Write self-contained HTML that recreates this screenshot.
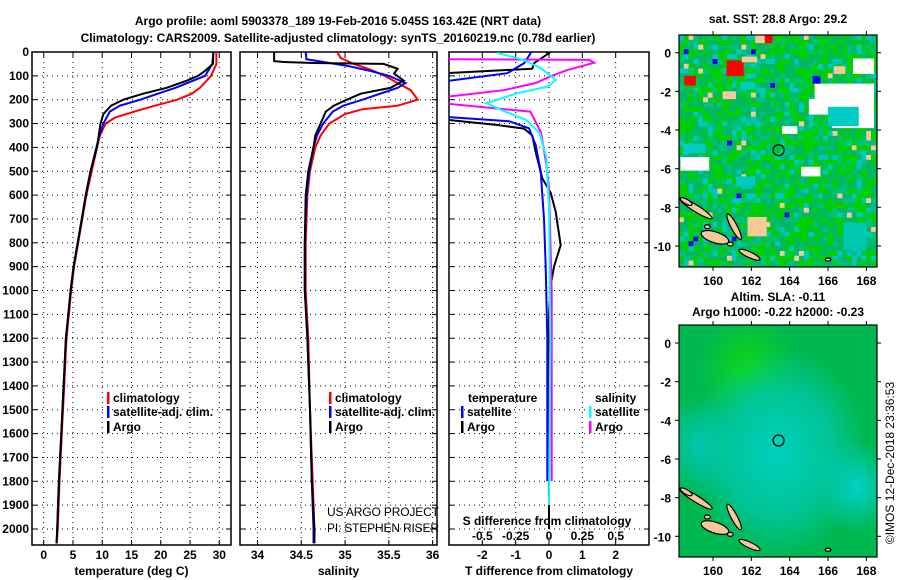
<!DOCTYPE html>
<html><head><meta charset="utf-8"><style>
html,body{margin:0;padding:0;background:#fff;}
svg{display:block;font-family:"Liberation Sans",sans-serif;}
.b{font-weight:bold;font-size:12px;}
</style></head><body>
<svg id="fig" width="900" height="580" viewBox="0 0 900 580" xmlns="http://www.w3.org/2000/svg">
<defs>
<clipPath id="c1"><rect x="32" y="52" width="199" height="493"/></clipPath>
<clipPath id="c2"><rect x="240" y="52" width="197" height="493"/></clipPath>
<clipPath id="c3"><rect x="449" y="52" width="200" height="493"/></clipPath>
<clipPath id="cm1"><rect x="679" y="35" width="198" height="232"/></clipPath>
<clipPath id="cm2"><rect x="679" y="325" width="198" height="232"/></clipPath>
<radialGradient id="g1" cx="0.35" cy="0.2" r="0.25"><stop offset="0" stop-color="#10d810"/><stop offset="1" stop-color="#10d810" stop-opacity="0"/></radialGradient>
<radialGradient id="g2" cx="0.5" cy="0.55" r="0.45"><stop offset="0" stop-color="#00d0c0"/><stop offset="0.6" stop-color="#00c8a8" stop-opacity="0.8"/><stop offset="1" stop-color="#00c8a8" stop-opacity="0"/></radialGradient>
<radialGradient id="g3" cx="0.9" cy="0.7" r="0.2"><stop offset="0" stop-color="#00d0c8"/><stop offset="1" stop-color="#00d0c8" stop-opacity="0"/></radialGradient>
<radialGradient id="g4" cx="0.1" cy="0.52" r="0.22"><stop offset="0" stop-color="#00c8b0"/><stop offset="1" stop-color="#00c8b0" stop-opacity="0"/></radialGradient>
</defs>
<text class="b" x="338" y="25" text-anchor="middle" font-size="13">Argo profile: aoml 5903378_189 19-Feb-2016 5.045S 163.42E (NRT data)</text>
<text class="b" x="338" y="42" text-anchor="middle" font-size="13">Climatology: CARS2009. Satellite-adjusted climatology: synTS_20160219.nc (0.78d earlier)</text>
<g id="panels"></g>
<g id="maps"></g>
</svg>
<script>
// ---------- data ----------
const tArgoD=[0,50,80,100,120,150,175,200,225,260,300,400,500,600,700,800,900,1000,1100,1200,1400,1600,1800,2000,2060];
const tArgoV=[29.0,28.9,27.5,26.4,24.5,21,17,13.6,11.5,10.2,9.7,9.1,8.0,7.2,6.5,5.8,5.1,4.6,4.2,3.8,3.4,3.0,2.6,2.3,2.2];
const tSatD=[0,50,100,150,175,200,225,250,300,350,400,500,600,700,800,900,1000,1100,1200,1400,1600,1800,2000,2060];
const tSatV=[29.0,28.8,27.6,22.5,19.5,16.5,13,11.3,10.2,9.5,9.0,8.0,7.2,6.5,5.8,5.1,4.6,4.2,3.8,3.4,3.0,2.6,2.3,2.2];
const tClimD=[0,50,100,150,175,200,225,250,275,300,350,400,500,600,700,800,900,1000,1100,1200,1400,1600,1800,2000,2060];
const tClimV=[29.5,29.5,28.6,26.7,25.3,22.8,19,15.5,12.2,10.6,9.6,9.1,8.2,7.3,6.6,5.9,5.2,4.7,4.3,3.9,3.5,3.1,2.7,2.4,2.2];
const sArgoD=[0,38,42,46,50,70,90,120,150,175,200,225,250,300,350,400,500,600,800,1000,1200,1500,1800,2000,2060];
const sArgoV=[34.19,34.19,34.3,34.64,35.44,35.6,35.56,35.67,35.52,35.18,35.02,34.87,34.78,34.72,34.66,34.64,34.58,34.55,34.54,34.54,34.57,34.6,34.62,34.65,34.65];
const sSatD=[0,30,40,60,80,100,130,150,175,200,225,250,300,350,400,500,600,800,1000,1200,1500,1800,2000,2060];
const sSatV=[34.55,34.56,34.72,35.05,35.3,35.5,35.69,35.6,35.4,35.2,34.98,34.86,34.75,34.68,34.64,34.59,34.56,34.54,34.54,34.57,34.6,34.62,34.64,34.64];
const sClimD=[0,25,50,75,100,130,160,200,225,240,260,300,350,400,500,600,800,1000,1200,1500,1800,2000,2060];
const sClimV=[34.91,34.95,35.1,35.3,35.45,35.6,35.75,35.83,35.6,35.2,35.0,34.82,34.72,34.66,34.6,34.57,34.55,34.55,34.58,34.6,34.63,34.65,34.65];
const dTArgoD=[0,5,47,70,90,250,285,306,321,350,420,530,590,670,810,900,980,1100,2000];
const dTArgoV=[-0.1,0,-0.45,-0.5,-3.3,-3.3,-3,-1.55,-0.75,-0.5,-0.4,-0.2,0.05,0.2,0.35,0.15,0.05,0,0];
const dTSatD=[0,5,47,89,124,270,273,290,320,390,500,700,900,1200,1800];
const dTSatV=[-0.55,-0.55,-0.75,-1.25,-3.2,-3.2,-3,-1.2,-0.6,-0.4,-0.25,-0.15,-0.1,-0.05,-0.05];
const dSArgoD=[0,30,33,45,75,100,130,160,190,215,250,337,470,570,1000,1800];
const dSArgoV=[-0.8,-0.8,0.3,0.34,0.14,0.02,-0.1,-0.34,-0.8,-0.8,-0.14,-0.06,-0.02,0,0.02,0.02];
const dSSatD=[0,5,33,68,117,145,173,215,245,285,340,440,650,1200,1900];
const dSSatV=[-0.38,-0.38,-0.19,-0.06,0.05,-0.01,-0.24,-0.47,-0.35,-0.17,-0.07,-0.02,0,0.01,0];
const depthTicks=[0,100,200,300,400,500,600,700,800,900,1000,1100,1200,1300,1400,1500,1600,1700,1800,1900,2000];
const tTicks=[0,5,10,15,20,25,30];
const sTicks=[34,34.5,35,35.5,36];
const sTickLabels=["34","34.5","35","35.5","36"];
const dtTicks=[-2,-1,0,1,2];
const dsTicks=[-0.5,-0.25,0,0.25,0.5];
const dsTickLabels=["-0.5","-0.25","0","0.25","0.5"];
const lonTicks=[160,162,164,166,168];
const latTicks=[0,-2,-4,-6,-8,-10];
const floatLon=163.42, floatLat=-5.045;

// ---------- helpers ----------
const NS="http://www.w3.org/2000/svg";
function mk(tag,attrs,parent){const e=document.createElementNS(NS,tag);for(const k in attrs)e.setAttribute(k,attrs[k]);parent.appendChild(e);return e;}
const yD=d=>52+d*0.2385;
const P=[{x0:32,x1:231,v0:-2,v1:32,clip:"c1"},{x0:240,x1:437,v0:33.8,v1:36.05,clip:"c2"},{x0:449,x1:649,v0:-3,v1:3,clip:"c3"}];
const xv=(p,v)=>p.x0+(v-p.v0)/(p.v1-p.v0)*(p.x1-p.x0);
const xs=v=>xv(P[2],v*4);
const root=document.getElementById('panels');

function panelFrame(p,i,ticks,labels,title,nm){
  const g=mk('g',{},root);
  
  
  depthTicks.forEach(d=>{
    if(d>0){const l=mk('line',{x1:p.x0,x2:p.x1,y1:yD(d),y2:yD(d),stroke:'#000','stroke-width':1,'stroke-dasharray':'1,4'},g);
    
    }
    mk('line',{x1:p.x0,x2:p.x0+5,y1:yD(d),y2:yD(d),stroke:'#000'},g);
    mk('line',{x1:p.x1-5,x2:p.x1,y1:yD(d),y2:yD(d),stroke:'#000'},g);
    if(i===0){const t=mk('text',{x:29,y:yD(d)+4,'text-anchor':'end','class':'b'},g);t.textContent=d;
      
      }
  });
  ticks.forEach((v,k)=>{
    const x=xv(p,v);
    const l=mk('line',{x1:x,x2:x,y1:52,y2:545,stroke:'#000','stroke-dasharray':'1,4'},g);
    
    
    mk('line',{x1:x,x2:x,y1:540,y2:545,stroke:'#000'},g);
    mk('line',{x1:x,x2:x,y1:52,y2:57,stroke:'#000'},g);
    const t=mk('text',{x:x,y:559,'text-anchor':'middle','class':'b'},g);t.textContent=labels[k];
    
    
  });
  const r=mk('rect',{x:p.x0,y:52,width:p.x1-p.x0,height:493,fill:'none',stroke:'#000','stroke-width':1.5},g);
  
  
  const tt=mk('text',{x:(p.x0+p.x1)/2,y:575,'text-anchor':'middle','class':'b'},g);tt.textContent=title;
  
  
  return g;
}
function series(p,D,V,color,nm,fx){
  const pts=D.map((d,k)=>(fx?fx(V[k]):xv(p,V[k])).toFixed(1)+','+yD(d).toFixed(1)).join(' ');
  const pl=mk('polyline',{points:pts,fill:'none',stroke:color,'stroke-width':2,'clip-path':'url(#'+p.clip+')'},root);
  
  
}
function legend(x,y,color,label,nm){
  const g=mk('g',{},root);
  
  
  mk('rect',{x:x,y:y-10,width:2.5,height:12,fill:color},g);
  const t=mk('text',{x:x+6,y:y,'class':'b'},g);t.textContent=label;
}
function txt(x,y,s,nm,extra){const t=mk('text',Object.assign({x:x,y:y,'class':'b'},extra||{}),root);t.textContent=s;
  
  return t;}

panelFrame(P[0],0,tTicks,tTicks.map(String),'temperature (deg C)','temperature-panel');
panelFrame(P[1],1,sTicks,sTickLabels,'salinity','salinity-panel');
panelFrame(P[2],2,dtTicks,dtTicks.map(String),'T difference from climatology','difference-panel');

series(P[0],tClimD,tClimV,'#ff0000','temp-climatology-line');
series(P[0],tSatD,tSatV,'#0000ff','temp-satellite-line');
series(P[0],tArgoD,tArgoV,'#000000','temp-argo-line');
series(P[1],sClimD,sClimV,'#ff0000','sal-climatology-line');
series(P[1],sSatD,sSatV,'#0000ff','sal-satellite-line');
series(P[1],sArgoD,sArgoV,'#000000','sal-argo-line');
series(P[2],dTArgoD,dTArgoV,'#000000','tdiff-argo-line');
series(P[2],dTSatD,dTSatV,'#0000ff','tdiff-satellite-line');
series(P[2],dSArgoD,dSArgoV,'#ff00ff','sdiff-argo-line',xs);
series(P[2],dSSatD,dSSatV,'#00ffff','sdiff-satellite-line',xs);

legend(107,402,'#ff0000','climatology','legend-temp-climatology');
legend(107,416,'#0000ff','satellite-adj. clim.','legend-temp-satellite');
legend(107,431,'#000000','Argo','legend-temp-argo');
legend(329,402,'#ff0000','climatology','legend-sal-climatology');
legend(329,416,'#0000ff','satellite-adj. clim.','legend-sal-satellite');
legend(329,431,'#000000','Argo','legend-sal-argo');
txt(468,402,'temperature','legend-temperature-heading');
legend(461,416,'#0000ff','satellite','legend-tdiff-satellite');
legend(461,431,'#000000','Argo','legend-tdiff-argo');
txt(595,402,'salinity','legend-salinity-heading');
legend(589,416,'#00ffff','satellite','legend-sdiff-satellite');
legend(589,431,'#ff00ff','Argo','legend-sdiff-argo');
txt(547,525,'S difference from climatology','s-diff-axis-title',{'text-anchor':'middle'});
dsTicks.forEach((v,k)=>{txt(xs(v),540,dsTickLabels[k],'s-diff-tick-label',{'text-anchor':'middle'});});
txt(327,516,'US ARGO PROJECT','credit-project',{'font-weight':'normal','font-size':'12','textLength':'112'}).setAttribute('class','');
txt(327,532,'PI: STEPHEN RISER','credit-pi',{'font-weight':'normal','font-size':'12','textLength':'112'}).setAttribute('class','');
document.querySelectorAll('text:not([class])').forEach(t=>{t.setAttribute('font-size','12');t.setAttribute('fill','#222');});

// ---------- maps ----------
const M=document.getElementById('maps');
const MX0=679.3,LON0=158.24,PXD=19.17,PYD=19.33;
const mx=l=>MX0+(l-LON0)*PXD;
function mapFrame(top,lat0y,title1,title2,nm,clip,fillFn){
  const g=mk('g',{},M);
  
  
  const my=la=>lat0y-la*PYD;
  const inner=mk('g',{'clip-path':'url(#'+clip+')'},g);
  fillFn(inner,my);
  const isl=[[159.1,-8.05,1.0,0.17,32],[160.1,-9.55,0.75,0.28,18],[161.1,-9.0,0.75,0.16,62],[161.9,-10.45,0.6,0.15,25],[158.6,-7.7,0.35,0.12,30],[160.9,-9.9,0.15,0.1,0],[166.0,-10.7,0.15,0.08,0],[159.7,-9.0,0.15,0.1,0]];
  isl.forEach(a=>{const e=mk('ellipse',{cx:mx(a[0]),cy:my(a[1]),rx:a[2]*PXD,ry:a[3]*PYD,transform:`rotate(${a[4]} ${mx(a[0])} ${my(a[1])})`,fill:'#f8c898',stroke:'#000','stroke-width':1.2},inner);
    
    });
  const c=mk('circle',{cx:mx(floatLon),cy:my(floatLat),r:5.5,fill:'none',stroke:'#000','stroke-width':1.2},g);
  
  
  mk('rect',{x:679,y:top,width:198,height:232,fill:'none',stroke:'#000','stroke-width':1.2},g);
  lonTicks.forEach(l=>{mk('line',{x1:mx(l),x2:mx(l),y1:top,y2:top-4,stroke:'#000'},g);mk('line',{x1:mx(l),x2:mx(l),y1:top+232,y2:top+236,stroke:'#000'},g);
    const t=mk('text',{x:mx(l),y:top+250,'text-anchor':'middle','class':'b'},g);t.textContent=l;
    
    });
  latTicks.forEach(la=>{mk('line',{x1:675,x2:679,y1:my(la),y2:my(la),stroke:'#000'},g);mk('line',{x1:877,x2:881,y1:my(la),y2:my(la),stroke:'#000'},g);
    const t=mk('text',{x:671,y:my(la)+5,'text-anchor':'end','class':'b'},g);t.textContent=la;
    
    });
  const t1=mk('text',{x:778,y:top-(title2?24:12),'text-anchor':'middle','class':'b'},g);t1.textContent=title1;
  
  
  if(title2){const t2=mk('text',{x:778,y:top-9,'text-anchor':'middle','class':'b'},g);t2.textContent=title2;
    
    }
}
function hash(i,j){let h=(i*374761393+j*668265263)^0x5bd1e995;h=(h^(h>>>13))*1274126177;h=h^(h>>>16);return ((h>>>0)%1000)/1000;}
const sstPatches=[
 [160.7,-0.4,161.6,-1.2,'#ff0000'],[158.5,-1.2,159.1,-1.7,'#ff0000'],[162.7,0.9,163.1,0.5,'#ff0000'],
 [161.5,-0.2,162.3,-0.5,'#f8c898'],[160.5,-2.0,161.2,-2.4,'#f8c898'],[162.2,0.9,162.7,0.5,'#f8c898'],
 [161.8,-8.5,162.8,-9.5,'#f8c898'],[166.3,-0.7,166.9,-1.1,'#f8c898'],
 [165.3,-1.6,168.4,-2.4,'#ffffff'],[165.0,-2.4,168.4,-3.2,'#ffffff'],[166.2,-3.2,168.4,-3.9,'#ffffff'],
 [158.3,-5.4,159.8,-6.1,'#ffffff'],[163.6,-3.8,164.4,-4.2,'#ffffff'],[167.3,-0.3,168.4,-1.1,'#ffffff'],
 [164.6,-5.9,165.6,-6.4,'#ffffff'],
 [166.0,-2.8,167.6,-3.8,'#00ccc4'],[161.4,-1.5,162.2,-1.9,'#00ccc4'],[161.2,-6.4,162.2,-6.9,'#00ccc4'],
 [158.4,-4.7,159.6,-5.2,'#00ccc4'],[166.8,-8.8,168.0,-10.2,'#00c8b0'],
 [165.2,-1.2,165.6,-1.6,'#0000ff']];
mapFrame(35,52.7,'sat. SST: 28.8 Argo: 29.2',null,'sst-map','cm1',(g,my)=>{
  mk('rect',{x:679,y:35,width:198,height:232,fill:'#00b860'},g);
  const cs=4.8;
  for(let i=0;i<42;i++)for(let j=0;j<49;j++){
    const r=hash(i,j), r2=hash(j+97,i+31);
    let c;
    if(r<0.34) c='#00d000';
    else if(r<0.56) c='#00b860';
    else if(r<0.74) c='#00c080';
    else if(r<0.84) c='#00c8c0';
    else if(r<0.86) c='#f8c898';
    else continue;
    if(r2<0.008) c='#0000ff';
    mk('rect',{x:679+i*cs,y:35+j*cs,width:cs+0.3,height:cs+0.3,fill:c},g);
  }
  sstPatches.forEach(a=>{
    const e=mk('rect',{x:mx(a[0]),y:my(a[1]),width:(a[2]-a[0])*PXD,height:(a[1]-a[3])*PYD,fill:a[4]},g);
    
    
  });
});
mapFrame(325,343,'Altim. SLA: -0.11','Argo h1000: -0.22 h2000: -0.23','sla-map','cm2',(g,my)=>{
  mk('rect',{x:679,y:325,width:198,height:232,fill:'#00b850'},g);
  ['g1','g2','g3','g4'].forEach(a=>mk('rect',{x:679,y:325,width:198,height:232,fill:'url(#'+a+')'},g));
});
const cr=mk('text',{x:0,y:0,'font-size':'12',transform:'translate(894,463) rotate(-90)','text-anchor':'middle',fill:'#000'},M);
cr.textContent='©IMOS 12-Dec-2018 23:36:53';


</script>
</body></html>
